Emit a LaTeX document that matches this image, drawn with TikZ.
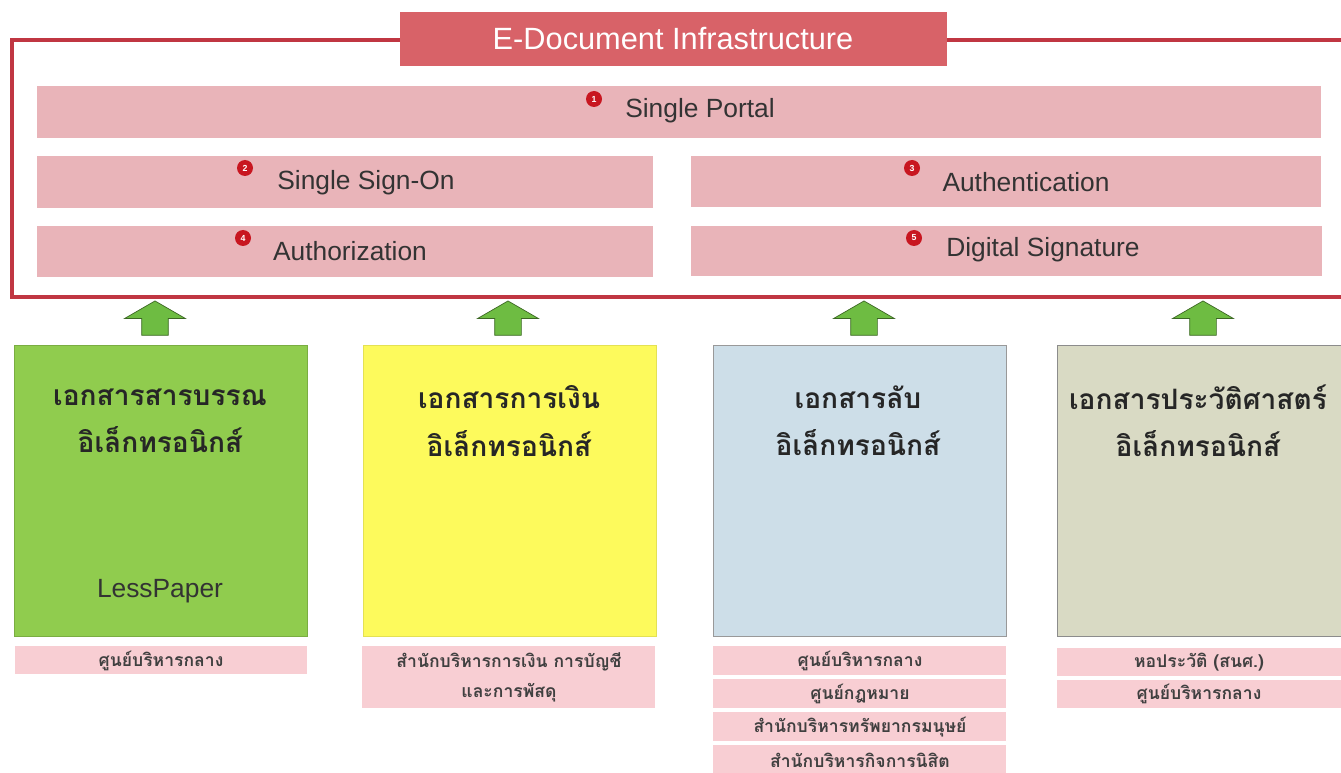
\documentclass[tikz,border=0pt]{standalone}
\usepackage{fontspec}
\setmainfont{Liberation Sans}
\newfontfamily\thaifont[Script=Thai]{Loma}
\usetikzlibrary{positioning,shapes.arrows}

\definecolor{framered}{RGB}{192,54,66}
\definecolor{titlered}{RGB}{216,98,104}
\definecolor{barpink}{RGB}{233,180,185}
\definecolor{badgered}{RGB}{200,22,32}
\definecolor{arrowgreen}{RGB}{110,188,66}
\definecolor{docgreen}{RGB}{144,204,78}
\definecolor{docyellow}{RGB}{253,250,92}
\definecolor{docblue}{RGB}{205,222,232}
\definecolor{dockhaki}{RGB}{217,218,196}
\definecolor{unitpink}{RGB}{248,206,211}

\tikzset{
  bartext/.style={font=\fontsize{15}{17}\selectfont, text=black!80},
  badge/.style={circle, fill=badgered, inner sep=0pt, minimum size=0.32cm,
    text=white, font=\fontsize{5}{5}\selectfont\bfseries},
  uparrow/.style={single arrow, rotate=90, fill=arrowgreen, draw=arrowgreen!55!black,
    minimum height=0.68cm, minimum width=1.2cm, inner sep=0.26cm,
    single arrow head extend=0.34cm, single arrow tip angle=120},
  doctitle/.style={align=center, text=black!85,
    font=\thaifont\bfseries\fontsize{16}{27}\selectfont},
  unittext/.style={align=center, text=black!75,
    font=\thaifont\bfseries\fontsize{10}{17}\selectfont},
}

\begin{document}
\begin{tikzpicture}[x=0.02cm, y=-0.02cm]
  \useasboundingbox (0,0) rectangle (1341,773);
  %%%%% frame %%%%%
  \draw[framered, line width=1.8pt] (12,40) rectangle (1360,297);
  \fill[titlered] (400,12) rectangle (947,66);
  \node[font=\fontsize{17.5}{20}\selectfont, text=white] (title) at (673,39) {E-Document Infrastructure};

  %%%%% services %%%%%
  \fill[barpink] (37,86) rectangle (1321,138);
  \fill[barpink] (37,156) rectangle (653,208);
  \fill[barpink] (691,156) rectangle (1321,207);
  \fill[barpink] (37,226) rectangle (653,277);
  \fill[barpink] (691,226) rectangle (1322,276);

  \node[bartext] (portal) at (700,111) {Single Portal};
  \node[bartext] (sso) at (366,183) {Single Sign-On};
  \node[bartext] (authn) at (1026,182) {Authentication};
  \node[bartext] (authz) at (350,251) {Authorization};
  \node[bartext] (dsig) at (1043,250) {Digital Signature};

  \node[badge] (b1) at (594,99) {1};
  \node[badge] (b2) at (245,168) {2};
  \node[badge] (b3) at (912,168) {3};
  \node[badge] (b4) at (243,238) {4};
  \node[badge] (b5) at (914,238) {5};

  %%%%% arrows %%%%%
  \node[uparrow] (up1) at (155,322) {};
  \node[uparrow] (up2) at (508,322) {};
  \node[uparrow] (up3) at (864,322) {};
  \node[uparrow] (up4) at (1203,322) {};

  %%%%% documents %%%%%
  \draw[fill=docgreen, draw=docgreen!85!black] (14,345) rectangle (307,636);
  \draw[fill=docyellow, draw=docyellow!90!black] (363,345) rectangle (656,636);
  \draw[fill=docblue, draw=black!40] (713,345) rectangle (1006,636);
  \draw[fill=dockhaki, draw=black!45] (1057,345) rectangle (1360,636);

  \node[doctitle] (doc1) at (160,421) {เอกสารสารบรรณ\\อิเล็กทรอนิกส์};
  \node[doctitle] (doc2) at (509,421) {เอกสารการเงิน\\อิเล็กทรอนิกส์};
  \node[doctitle] (doc3) at (858,421) {เอกสารลับ\\อิเล็กทรอนิกส์};
  \node[doctitle] (doc4) at (1198,421) {เอกสารประวัติศาสตร์\\อิเล็กทรอนิกส์};
  \node[font=\fontsize{15}{17}\selectfont, text=black!80] (lesspaper) at (160,591) {LessPaper};

  %%%%% units %%%%%
  \fill[unitpink] (15,646) rectangle (307,674);
  \fill[unitpink] (362,646) rectangle (655,708);
  \fill[unitpink] (713,646) rectangle (1006,675);
  \fill[unitpink] (713,679) rectangle (1006,708);
  \fill[unitpink] (713,712) rectangle (1006,741);
  \fill[unitpink] (713,745) rectangle (1006,775);
  \fill[unitpink] (1057,648) rectangle (1341,676);
  \fill[unitpink] (1057,680) rectangle (1341,708);

  \node[unittext] (u1) at (161,661) {ศูนย์บริหารกลาง};
  \node[unittext] (u2) at (509,677) {สำนักบริหารการเงิน การบัญชี\\และการพัสดุ};
  \node[unittext] (u3a) at (860,661) {ศูนย์บริหารกลาง};
  \node[unittext] (u3b) at (860,694) {ศูนย์กฎหมาย};
  \node[unittext] (u3c) at (860,727) {สำนักบริหารทรัพยากรมนุษย์};
  \node[unittext] (u3d) at (860,760) {สำนักบริหารกิจการนิสิต};
  \node[unittext] (u4a) at (1199,662) {หอประวัติ (สนศ.)};
  \node[unittext] (u4b) at (1199,694) {ศูนย์บริหารกลาง};
\end{tikzpicture}
\end{document}
